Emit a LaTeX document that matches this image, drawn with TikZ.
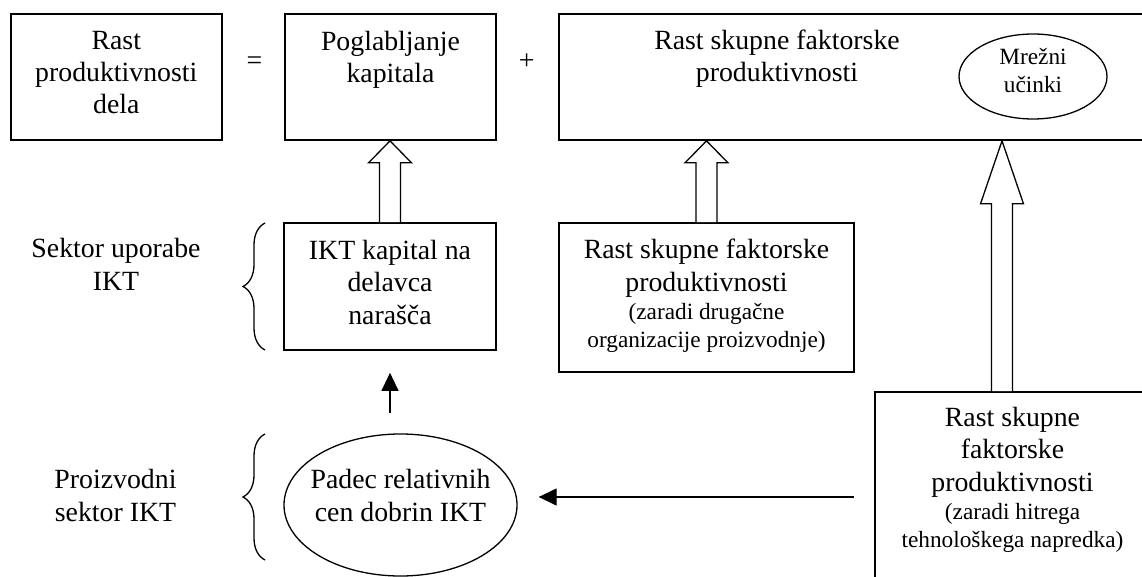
\documentclass[tikz,border=0pt]{standalone}
\usepackage{fontspec}
\setmainfont{Liberation Serif}
\usetikzlibrary{shapes.geometric,arrows.meta,calc,decorations.pathreplacing}
\newcommand\bigtxt{\fontsize{27.8pt}{32.3pt}\selectfont}
\newcommand\smalltxt{\fontsize{23.3pt}{28pt}\selectfont}
\newcommand\blockarrow[3]{%
  \draw[blk] ($(#1)+(-10.5,0)$) -- ($(#2)+(-10.5,#3)$) -- ($(#2)+(-21.5,#3)$) -- (#2)
    -- ($(#2)+(21.5,#3)$) -- ($(#2)+(10.5,#3)$) -- ($(#1)+(10.5,0)$);}
\begin{document}
\begin{tikzpicture}[x=1pt,y=-1pt,
  box/.style={draw,line width=1.7pt,inner sep=0pt},
  oval/.style={draw,ellipse,line width=1.3pt,inner sep=0pt},
  txt/.style={inner sep=0pt,anchor=base,align=center,font=\bigtxt},
  stxt/.style={inner sep=0pt,anchor=base,align=center,font=\smalltxt},
  blk/.style={draw,line width=1.3pt,fill=white,line join=miter},
  thinarr/.style={draw,line width=1.3pt,-{Triangle[length=18pt,width=17pt]}},
  brc/.style={draw,line width=1.3pt,decorate,decoration={brace,amplitude=22pt}}]
\useasboundingbox (0,0) rectangle (1142,577);
\clip (0,0) rectangle (1142,577);
\fill[white] (0,0) rectangle (1142,577);
% top row (text anchors: baseline of last line)
\node[box,minimum width=211.3pt,minimum height=126pt] (b1) at (116.3,77) {};
\node[box,minimum width=211pt,minimum height=126pt] (b2) at (390.5,77) {};
\node[box,minimum width=591pt,minimum height=126pt] (b3) at (854.5,77) {};
\node[txt] (t1) at (116.3,114) {Rast\\produktivnosti\\dela};
\node[txt] (eq) at (254.5,70) {=};
\node[txt] (t2) at (390.5,83) {Poglabljanje\\kapitala};
\node[txt] (pl) at (526.7,70) {+};
\node[txt] (t3) at (777,81.5) {Rast skupne faktorske\\produktivnosti};
\node[oval,minimum width=148pt,minimum height=85pt] (mr) at (1033,76.5) {};
\node[stxt] (tmr) at (1033,93) {Mrežni\\učinki};
% middle row
\node[box,minimum width=212pt,minimum height=127pt] (ikt) at (390,286.5) {};
\node[txt] (tikt) at (390,324) {IKT kapital na\\delavca\\narašča};
\node[box,minimum width=295pt,minimum height=149pt] (mid) at (706.5,297.5) {};
\node[txt] (tmid) at (706.5,347) {Rast skupne faktorske\\produktivnosti\\[-4.3pt]{\smalltxt (zaradi drugačne}\\[-4.3pt]{\smalltxt organizacije proizvodnje)}};
\node[txt] (sek) at (116,290) {Sektor uporabe\\IKT};
\draw[brc] (265,350) -- (265,223);
% bottom row
\node[oval,minimum width=233pt,minimum height=142pt] (padec) at (400.5,505) {};
\node[txt] (tpad) at (400.5,521) {Padec relativnih\\cen dobrin IKT};
\node[txt] (pro) at (115.5,521) {Proizvodni\\sektor IKT};
\draw[brc] (265,560) -- (265,434);
\node[box,minimum width=275pt,minimum height=208pt] (br) at (1012.5,496) {};
\node[txt] (tbr) at (1012.5,547) {Rast skupne\\faktorske\\produktivnosti\\[-4.3pt]{\smalltxt (zaradi hitrega}\\[-4.3pt]{\smalltxt tehnološkega napredka)}};
% block arrows
\coordinate (a1t) at (ikt.north |- b2.south);
\blockarrow{ikt.north}{a1t}{22}
\coordinate (a2t) at (mid.north |- b3.south);
\blockarrow{mid.north}{a2t}{22}
\coordinate (a3s) at ([xshift=-10.5pt]br.north);
\coordinate (a3t) at (a3s |- b3.south);
\blockarrow{a3s}{a3t}{63}
% thin arrows
\coordinate (t0) at (390,413);
\draw[thinarr] (t0) -- ([yshift=-22pt]ikt.south);
\coordinate (h0) at (854,497);
\draw[thinarr] (h0) -- ($(padec.east |- h0)+(21,0)$);
\end{tikzpicture}
\end{document}
